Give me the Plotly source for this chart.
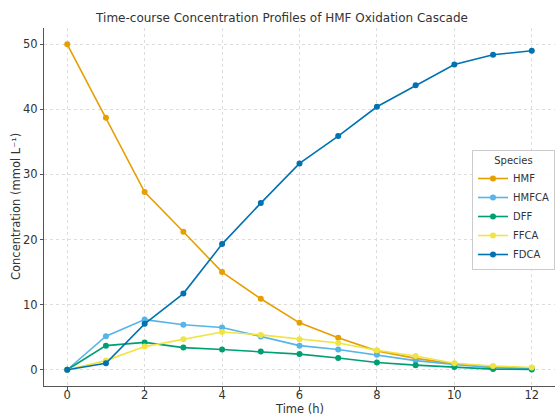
import plotly.graph_objects as go

time_h = [0, 1, 2, 3, 4, 5, 6, 7, 8, 9, 10, 11, 12]
hmf = [50.0, 38.7, 27.3, 21.2, 15.0, 10.9, 7.2, 4.9, 2.9, 1.75, 0.9, 0.46, 0.25]
hmfca = [0.0, 5.15, 7.7, 6.9, 6.5, 5.1, 3.7, 3.1, 2.3, 1.4, 0.8, 0.3, 0.15]
dff = [0.0, 3.7, 4.2, 3.4, 3.1, 2.8, 2.4, 1.8, 1.1, 0.7, 0.4, 0.1, 0.05]
ffca = [0.0, 1.4, 3.55, 4.7, 5.8, 5.35, 4.7, 4.1, 3.0, 2.1, 1.0, 0.57, 0.35]
fdca = [0.0, 1.0, 7.05, 11.7, 19.3, 25.6, 31.7, 35.9, 40.4, 43.7, 46.9, 48.4, 49.0]

series = [
    ("HMF", hmf, "#E69F00"),
    ("HMFCA", hmfca, "#56B4E9"),
    ("DFF", dff, "#009E73"),
    ("FFCA", ffca, "#F0E442"),
    ("FDCA", fdca, "#0072B2"),
]

fig = go.Figure()
for name, vals, color in series:
    fig.add_trace(go.Scatter(
        x=time_h, y=vals, name=name, mode="lines+markers",
        line=dict(color=color, width=1.6),
        marker=dict(color=color, size=6),
    ))

font_fam = "DejaVu Sans"
W, H = 555, 416
L, R, T, B = 44, 0, 28, 30
fig.update_layout(
    width=W, height=H,
    margin=dict(l=L, r=R, t=T, b=B, autoexpand=False),
    paper_bgcolor="white", plot_bgcolor="white",
    font=dict(family=font_fam, size=11, color="#333333"),
    title=dict(text="Time-course Concentration Profiles of HMF Oxidation Cascade",
               x=282/W, xanchor="center", y=1-18/H, yanchor="middle",
               font=dict(size=12, color="#333333")),
    showlegend=True,
    legend=dict(
        x=1.0, xanchor="right", y=(H-B-150)/(H-T-B), yanchor="top",
        bgcolor="rgba(255,255,255,0.85)", bordercolor="#cccccc", borderwidth=1,
        font=dict(size=10, color="#333333"),
        title=dict(text="Species", side="top center", font=dict(size=10)),
        itemwidth=30,
    ),
    xaxis=dict(
        range=[-0.6, 12.6], tickvals=[0, 2, 4, 6, 8, 10, 12],
        showline=True, linecolor="#555555", linewidth=1.2, mirror=False,
        ticks="outside", ticklen=3, tickcolor="#555555",
        showgrid=True, gridcolor="#dddddd", griddash="dot", gridwidth=1,
        zeroline=False, automargin=False,
        tickfont=dict(size=11.5),
        ticklabelstandoff=-5,
    ),
    yaxis=dict(
        range=[-2.5, 52.5], tickvals=[0, 10, 20, 30, 40, 50],
        showline=True, linecolor="#555555", linewidth=1.2, mirror=False,
        ticks="outside", ticklen=3, tickcolor="#555555",
        showgrid=True, gridcolor="#dddddd", griddash="dot", gridwidth=1,
        zeroline=False, automargin=False,
        tickfont=dict(size=11.5),
    ),
    annotations=[
        dict(text="Time (h)", xref="paper", yref="paper",
             x=0.5, y=-(409-(H-B))/(H-T-B), xanchor="center", yanchor="middle",
             showarrow=False, font=dict(size=11.5, color="#333333")),
        dict(text="Concentration (mmol L⁻¹)", xref="paper", yref="paper",
             x=-(L-16)/(W-L-R), y=0.5, xanchor="center", yanchor="middle",
             textangle=-90, showarrow=False, font=dict(size=11.5, color="#333333")),
    ],
)

fig.write_html("out.html")
